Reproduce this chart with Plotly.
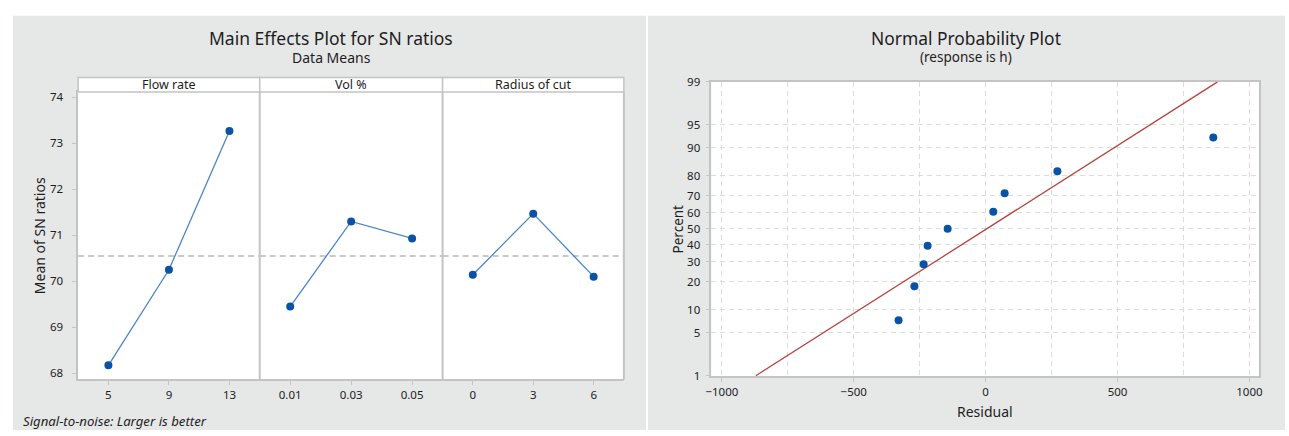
import plotly.graph_objects as go
from statistics import NormalDist

# ---------------- data ----------------
flow_levels = ["5", "9", "13"]
flow_sn = [68.17, 70.25, 73.27]
vol_levels = ["0.01", "0.03", "0.05"]
vol_sn = [69.45, 71.30, 70.93]
radius_levels = ["0", "3", "6"]
radius_sn = [70.14, 71.47, 70.10]
overall_mean_sn = 70.55
sn_ticks = [68, 69, 70, 71, 72, 73, 74]
factor_names = ["Flow rate", "Vol %", "Radius of cut"]

residuals = [-330, -270, -235, -220, -144, 29, 72, 272, 863]
percents = [7.4, 18.1, 28.7, 39.4, 50.0, 60.6, 71.3, 81.9, 92.6]
fit_residual = [-871, 879]
fit_percent = [1, 99]
percent_ticks = [1, 5, 10, 20, 30, 40, 50, 60, 70, 80, 90, 95, 99]
residual_ticks = [-1000, -500, 0, 500, 1000]
residual_minor = [-750, -250, 250, 750]

# ---------------- helpers ----------------
W, H = 1289, 436
def px(x): return x / W
def py(y): return 1 - y / H
nd = NormalDist()
def z(p): return nd.inv_cdf(p / 100.0)

FONT = "Noto Sans"
TXT = "#1e1e1e"
FRAME = "#c4c4c4"
PANEL = "#e6e7e7"
MARK = "#0a52a5"
LINE = "#4a86c8"
RED = "#b5443e"
GRID = "#dcdcdc"
GDASH = "5px,4px"

# left panel geometry (px)
L_div = [72.7, 255.7, 440.0, 622.7]
L_top, L_bot = 86.7, 383.7
S_top = 71.7
# right panel geometry (px)
R_left, R_right = 710.8, 1263.0
R_top, R_bot = 76.0, 380.7

fig = go.Figure()

levels = [flow_levels, vol_levels, radius_levels]
values = [flow_sn, vol_sn, radius_sn]
for i in range(3):
    xa = "x" if i == 0 else f"x{i+1}"
    fig.add_trace(go.Scatter(
        x=levels[i], y=values[i], xaxis=xa, yaxis="y",
        mode="lines+markers",
        line=dict(color=LINE, width=1.3),
        marker=dict(color=MARK, size=8),
        showlegend=False, hoverinfo="skip"))

fig.add_trace(go.Scatter(
    x=fit_residual, y=[z(p) for p in fit_percent], xaxis="x4", yaxis="y2",
    mode="lines", line=dict(color=RED, width=1.3),
    showlegend=False, hoverinfo="skip"))
fig.add_trace(go.Scatter(
    x=residuals, y=[z(p) for p in percents], xaxis="x4", yaxis="y2",
    mode="markers", marker=dict(color=MARK, size=8),
    showlegend=False, hoverinfo="skip"))

tickfont = dict(family=FONT, size=11.5, color=TXT)
common_x = dict(type="category", range=[-0.5, 2.5], showgrid=False,
                zeroline=False, ticks="outside", ticklen=4, tickcolor=FRAME,
                tickfont=tickfont, showline=True, linecolor=FRAME,
                linewidth=1.5, mirror=True, anchor="y", fixedrange=True)
layout = dict(
    width=W, height=H, margin=dict(l=0, r=0, t=0, b=0),
    paper_bgcolor="white", plot_bgcolor="white",
    font=dict(family=FONT, color=TXT),
    yaxis=dict(domain=[py(L_bot), py(L_top)], anchor="x",
               range=[67.865, 74.118], tickvals=sn_ticks,
               showgrid=False, zeroline=False, ticks="outside", ticklen=4,
               tickcolor=FRAME, tickfont=tickfont, showline=True,
               linecolor=FRAME, linewidth=1.5, ticklabelstandoff=7),
    xaxis4=dict(domain=[px(R_left), px(R_right)], anchor="y2",
                range=[-1040, 1037], tickvals=residual_ticks,
                showgrid=True, gridcolor=GRID, griddash=GDASH,
                gridwidth=1,
                minor=dict(tickvals=residual_minor, showgrid=True,
                           gridcolor=GRID, griddash=GDASH, ticks=""),
                zeroline=False, ticks="outside", ticklen=4, tickcolor=FRAME,
                tickfont=tickfont, showline=True, linecolor=FRAME,
                linewidth=1.5, mirror=True),
    yaxis2=dict(domain=[py(R_bot), py(R_top)], anchor="x4",
                range=[z(1) - 0.012, z(99) + 0.005],
                tickvals=[z(p) for p in percent_ticks],
                ticktext=[str(p) for p in percent_ticks],
                showgrid=True, gridcolor=GRID, griddash=GDASH,
                zeroline=False, ticks="outside", ticklen=4, tickcolor=FRAME,
                tickfont=tickfont, showline=True, linecolor=FRAME,
                linewidth=1.5, mirror=True, ticklabelstandoff=3),
)
for i in range(3):
    key = "xaxis" if i == 0 else f"xaxis{i+1}"
    d = dict(common_x)
    d["domain"] = [px(L_div[i]), px(L_div[i + 1])]
    layout[key] = d
fig.update_layout(**layout)

shapes = []
# grey panel backgrounds
shapes.append(dict(type="rect", xref="paper", yref="paper", layer="below",
                   x0=px(7), x1=px(645), y0=0, y1=py(8),
                   fillcolor=PANEL, line=dict(width=0)))
shapes.append(dict(type="rect", xref="paper", yref="paper", layer="below",
                   x0=px(647), x1=1, y0=0, y1=py(8),
                   fillcolor=PANEL, line=dict(width=0)))
# white plot areas
shapes.append(dict(type="rect", xref="paper", yref="paper", layer="below",
                   x0=px(L_div[0]), x1=px(L_div[3]), y0=py(L_bot), y1=py(L_top),
                   fillcolor="white", line=dict(width=0)))
shapes.append(dict(type="rect", xref="paper", yref="paper", layer="below",
                   x0=px(R_left), x1=px(R_right), y0=py(R_bot), y1=py(R_top),
                   fillcolor="white", line=dict(width=0)))
# strips
for i in range(3):
    shapes.append(dict(type="rect", xref="paper", yref="paper", layer="above",
                       x0=px(L_div[i]), x1=px(L_div[i + 1]),
                       y0=py(L_top), y1=py(S_top),
                       fillcolor="white", line=dict(color=FRAME, width=1.5)))
# panel dividers and right edge
for xv in L_div[1:]:
    shapes.append(dict(type="line", xref="paper", yref="paper", layer="above",
                       x0=px(xv), x1=px(xv), y0=py(L_bot), y1=py(L_top),
                       line=dict(color=FRAME, width=2)))
# mean reference line in each panel
for i in range(3):
    xr = "x domain" if i == 0 else f"x{i+1} domain"
    shapes.append(dict(type="line", xref=xr, yref="y", layer="below",
                       x0=0, x1=1, y0=overall_mean_sn, y1=overall_mean_sn,
                       line=dict(color="#b8b8b8", width=1.5, dash="6px,4px")))
fig.update_layout(shapes=shapes)

ann = []
def add_text(text, x, y, size, **kw):
    d = dict(text=text, x=px(x), y=py(y), xref="paper", yref="paper",
             showarrow=False, font=dict(family=FONT, size=size, color=TXT),
             xanchor="center", yanchor="middle")
    d.update(kw)
    ann.append(d)

add_text("Main Effects Plot for SN ratios", 328, 31, 17.5)
add_text("Data Means", 328, 51, 14)
add_text("Normal Probability Plot", 968, 31, 17.4)
add_text("(response is h)", 968, 51, 13.5)
for i, name in enumerate(factor_names):
    add_text(name, (L_div[i] + L_div[i + 1]) / 2, 79.5, 12.5)
add_text("Mean of SN ratios", 34, 235, 14, textangle=-90)
add_text("<i>Signal-to-noise: Larger is better</i>", 15, 426.5, 13.2,
         xanchor="left")
add_text("Percent", 677, 228, 13.5, textangle=-90)
add_text("Residual", 987, 417, 14)
fig.update_layout(annotations=ann)

fig.write_html("out.html", config={"displayModeBar": False},
               post_script="document.body.style.margin='0px';")
